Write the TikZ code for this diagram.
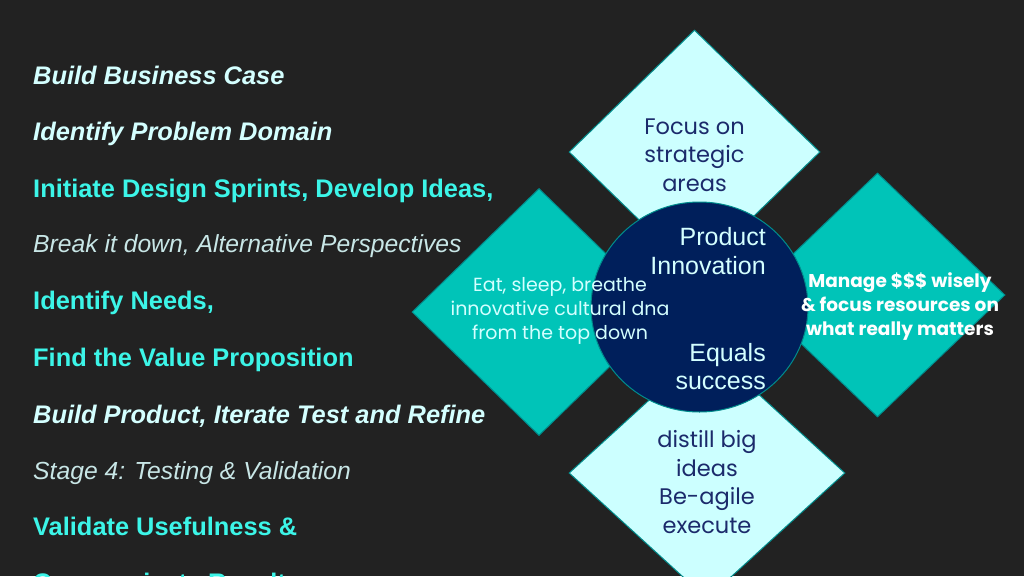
\documentclass[tikz,border=0pt]{standalone}
\usepackage{fontspec}
\setmainfont{Liberation Sans}
\newfontfamily\gothic{Poppins}
\usetikzlibrary{shapes.geometric}
\definecolor{bgdark}{HTML}{222222}
\definecolor{paleaqua}{HTML}{CCFFFF}
\definecolor{teal}{HTML}{00C4B8}
\definecolor{rim}{HTML}{008C8C}
\definecolor{navy}{HTML}{001F5B}
\definecolor{inkblue}{HTML}{1B2A6B}
\definecolor{mint}{HTML}{D4FFFF}
\definecolor{aqua}{HTML}{3CF5E8}
\definecolor{haze}{HTML}{C8E6E6}
\begin{document}
\begin{tikzpicture}[x=1pt, y=-1pt,
  phase/.style={anchor=base west, inner sep=0, text=mint, font=\fontsize{25.4}{30}\selectfont\bfseries\itshape},
  goal/.style={anchor=base west, inner sep=0, text=aqua, font=\fontsize{25.4}{30}\selectfont\bfseries},
  note/.style={anchor=base west, inner sep=0, text=haze, font=\fontsize{24.7}{30}\selectfont\itshape},
  petal/.style={shape=diamond, draw=rim, line width=1pt, inner sep=0},
  petaltext/.style={align=center, inner sep=0, font=\gothic\fontsize{22.5}{28.5}\selectfont}]
\useasboundingbox (0,0) rectangle (1024,576);
\clip (0,0) rectangle (1024,576);
\fill[bgdark] (0,0) rectangle (1024,576);
% left list
\node[phase] (l1) at (33,84) {Build Business Case};
\node[phase] (l2) at (33,140) {Identify Problem Domain};
\node[goal] (l3) at (33,197) {Initiate Design Sprints, Develop Ideas,};
\node[note] (l4) at (33,252) {Break it down, Alternative Perspectives};
\node[goal] (l5) at (33,309) {Identify Needs,};
\node[goal] (l6) at (33,366) {Find the Value Proposition};
\node[phase] (l7) at (33,423) {Build Product, Iterate Test and Refine};
\node[note] (l8) at (33,479) {Stage 4: Testing \& Validation};
\node[goal] (l9) at (33,535) {Validate Usefulness \&};
\node[goal] (l10) at (33,591) {Communicate Results};
% diamonds
\node[petal, fill=paleaqua, minimum width=251, minimum height=244] (top) at (694.5,152) {};
\node[petal, fill=teal, minimum width=254, minimum height=247] (left) at (539,312) {};
\node[petal, fill=teal, minimum width=255, minimum height=244] (right) at (877.5,295) {};
\node[petal, fill=paleaqua, minimum width=276, minimum height=252] (bottom) at (707,473) {};
\node[shape=ellipse, fill=navy, draw=rim, line width=1pt, minimum width=217, minimum height=210, inner sep=0] (hub) at (699.5,307) {};
% texts
\node[petaltext, text=inkblue] (toptext) at (694.5,155) {Focus on\\strategic\\areas};
\node[petaltext, text=inkblue] (bottomtext) at (707,482) {distill big\\ideas\\Be-agile\\execute};
\node[petaltext, text=mint, font=\gothic\fontsize{19}{24}\selectfont] (lefttext) at (560,311) {Eat, sleep, breathe\\innovative cultural dna\\from the top down};
\node[petaltext, text=white, font=\gothic\bfseries\fontsize{18.5}{24}\selectfont] (righttext) at (900,307) {Manage \$\$\$ wisely\\\& focus resources on\\what really matters};
\node[align=right, anchor=east, inner sep=0, text=mint, font=\fontsize{25}{29}\selectfont] (hubtop) at (766,251) {Product\\Innovation};
\node[align=right, anchor=east, inner sep=0, text=mint, font=\fontsize{25}{28}\selectfont] (hubbottom) at (766,367) {Equals\\success};
\end{tikzpicture}
\end{document}
